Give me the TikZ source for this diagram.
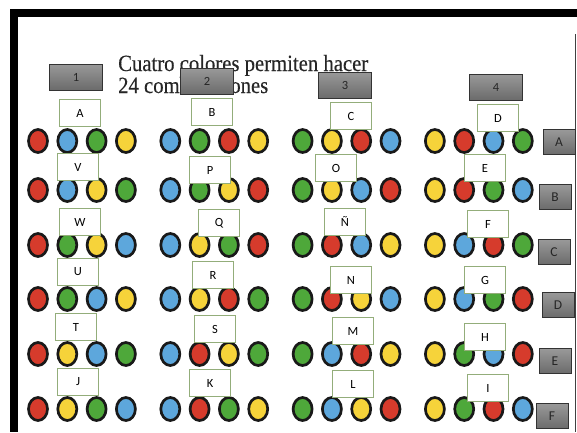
\documentclass[tikz,border=0pt]{standalone}
\usepackage{fontspec}
\setmainfont{Liberation Serif}
\newfontfamily\titlefont[FakeBold=0.4]{Liberation Serif}
\newfontfamily\boxfont{Carlito}
\usetikzlibrary{shapes.geometric}

\definecolor{dotR}{HTML}{D63B2C}
\definecolor{dotB}{HTML}{5DA7DC}
\definecolor{dotG}{HTML}{4EA83A}
\definecolor{dotY}{HTML}{F6D33A}
\definecolor{boxline}{HTML}{93AD7A}

\begin{document}
\begin{tikzpicture}[
  x=1pt, y=-1pt,
  dot/.style={ellipse, draw=black!90, line width=2.7pt, inner sep=0pt,
              minimum width=19pt, minimum height=23pt},
  letbox/.style={rectangle, draw=boxline, fill=white, line width=0.8pt,
                 minimum width=41pt, minimum height=27pt,
                 font=\boxfont\fontsize{12.5}{12.5}\selectfont},
  numbox/.style={rectangle, draw=black!80, top color=black!40, bottom color=black!58,
                 line width=0.8pt, minimum width=53pt, minimum height=26pt,
                 text=black!85, font=\boxfont\fontsize{12.5}{12.5}\selectfont},
  rowbox/.style={numbox, minimum width=32pt, minimum height=25pt,
                 font=\boxfont\fontsize{13.5}{13.5}\selectfont},
  title/.style={inner sep=0pt, anchor=base west, text=black!85,
                font=\titlefont\fontsize{20.7}{22}\selectfont}
]
  \useasboundingbox (0,0) rectangle (577,432);

  % frame
  \fill[black] (10,9) rectangle (577,17);
  \fill[black] (10,9) rectangle (18,432);
  \draw[gray!50!black, line width=1pt] (575,34) -- (575,432);

  % title
  \node[title] (ttl1) at (118,71) {\scalebox{1}[1.12]{Cuatro colores permiten hacer}};
  \node[title] (ttl2) at (118,93) {\scalebox{1}[1.12]{24 combinaciones}};

  % dots, one row of the four groups at a time
  \foreach \r/\y/\cols in {
    1/141/{R,B,G,Y,B,G,R,Y,G,Y,R,B,Y,R,B,G},
    2/190/{R,B,Y,G,B,G,Y,R,G,Y,B,R,Y,R,G,B},
    3/245/{R,G,Y,B,B,Y,G,R,G,R,B,Y,Y,B,R,G},
    4/299/{R,G,B,Y,B,Y,R,G,G,R,Y,B,Y,B,G,R},
    5/354/{R,Y,B,G,B,R,Y,G,G,B,R,Y,Y,G,B,R},
    6/409/{R,Y,G,B,B,R,G,Y,G,B,Y,R,Y,G,R,B}}
    \foreach \c [count=\k from 0] in \cols
      \node[dot, fill=dot\c] (d\r-\k) at ({38+132.3*int(\k/4)+29.3*mod(\k,4)},\y) {};

  % letter boxes
  \foreach \lab/\x/\y [count=\n] in {
    A/80/113, V/78/167, W/80/222, U/78/272, T/76/327, J/78/382,
    B/212/112, P/210/170, Q/219/223, R/213/275, S/215/329, K/210/383,
    C/351/116, O/336/168, Ñ/345/222, N/351/280, M/353/331, L/353/384,
    D/498/118, E/485/168, F/488/224, G/485/280, H/485/337, I/488/388}
    \node[letbox] (l\n) at (\x,\y) {\lab};

  % group numbers
  \foreach \lab/\x/\y in {1/76/77, 2/207/81, 3/345/85, 4/496/87}
    \node[numbox] (h\lab) at (\x,\y) {\lab};

  % row letters
  \foreach \lab/\x/\y in {A/559/142, B/555/197, C/554/252, D/558/305, E/555/361, F/552/416}
    \node[rowbox] (r\lab) at (\x,\y) {\lab};
\end{tikzpicture}
\end{document}
